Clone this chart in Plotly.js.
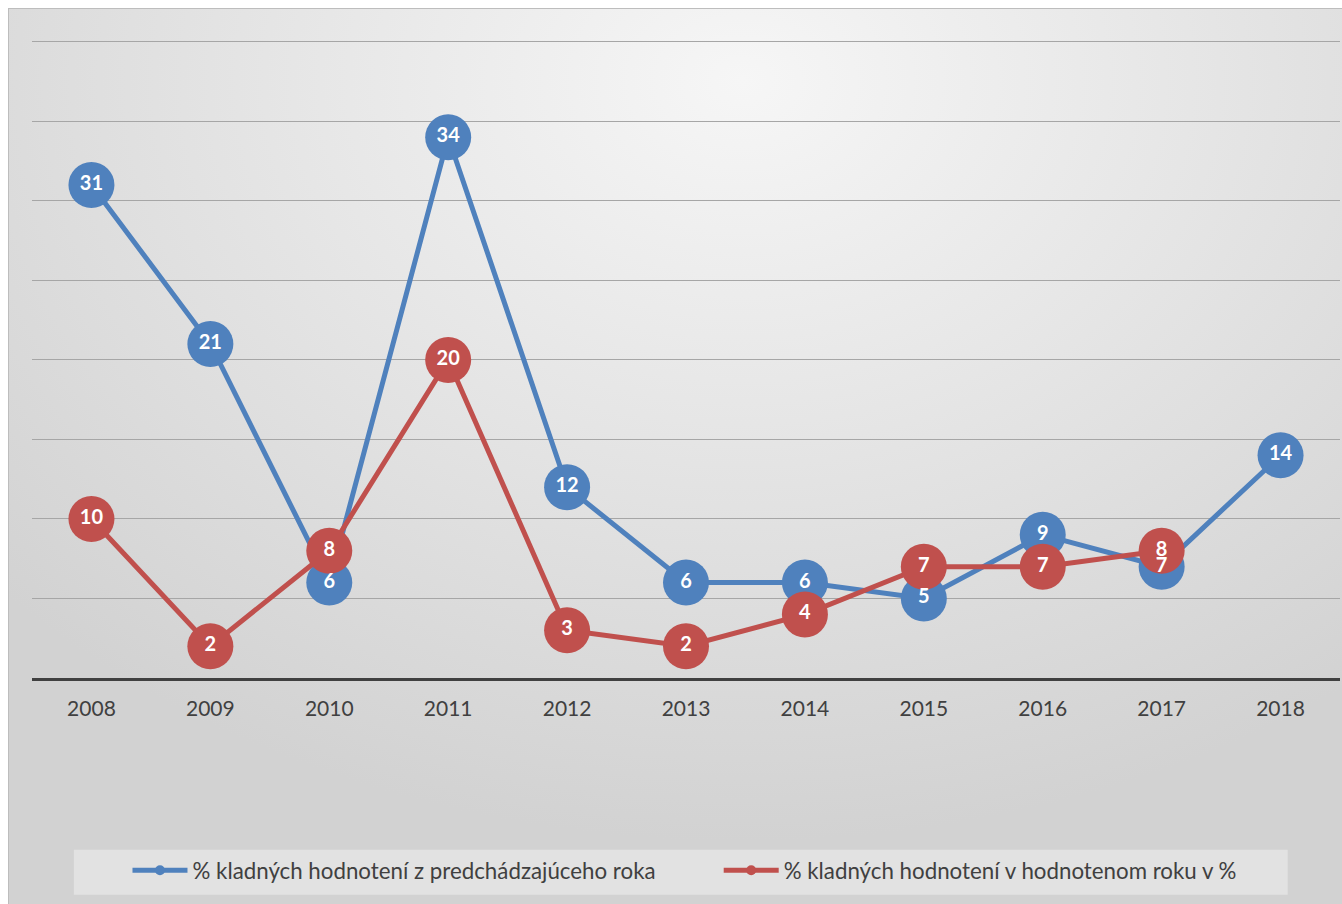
<!DOCTYPE html>
<html><head><meta charset="utf-8">
<script src="https://cdn.plot.ly/plotly-3.0.1.min.js"></script>
<style>
html,body{margin:0;padding:0;background:#fff;}
#bg{position:absolute;left:8px;top:8px;width:1334px;height:896px;box-sizing:border-box;border-left:1px solid #bdbdbd;border-top:1px solid #bdbdbd;
background:radial-gradient(ellipse 75% 85% at 55% 8%, #f6f6f6 0%, #e6e6e6 45%, #d2d2d2 100%);}
#chart{position:absolute;left:0;top:0;width:1342px;height:904px;}
</style></head><body>
<div id="bg"></div>
<div id="chart"></div>
<script>
const years = ['2008','2009','2010','2011','2012','2013','2014','2015','2016','2017','2018'];
const prevYear = [31,21,6,34,12,6,6,5,9,7,14];
const currYear = [10,2,8,20,3,2,4,7,7,8,null];
const nameBlue = '% kladných hodnotení z predchádzajúceho roka';
const nameRed = '% kladných hodnotení v hodnotenom roku v %';
const blue = '#4f81bd', red = '#c0504d';
const font = 'Lato, Carlito, "Open Sans", sans-serif';

function lineTrace(y, name, color){
  return {x: years, y: y, name: name, type:'scatter', mode:'lines+markers',
    line:{color:color, width:5}, marker:{color:color, size:46}, showlegend:false,
    connectgaps:false, hoverinfo:'skip'};
}
function textTrace(y){
  return {x: years, y: y, type:'scatter', mode:'text', text: y.map(v=>v==null?'':String(v)),
    textposition:'middle center', textfont:{color:'#ffffff', size:20, family:font, weight:'bold'},
    showlegend:false, hoverinfo:'skip'};
}
function legendTrace(name, color, leg){
  return {x:[null], y:[null], name:name, type:'scatter', mode:'lines+markers', legend:leg,
    line:{color:color, width:5}, marker:{color:color, size:10}, showlegend:true};
}

const data = [
  lineTrace(prevYear, nameBlue, blue),
  lineTrace(currYear, nameRed, red),
  textTrace(prevYear),
  textTrace(currYear),
  legendTrace(nameBlue, blue, 'legend'),
  legendTrace(nameRed, red, 'legend2')
];

const legBase = {orientation:'h', yanchor:'middle', y:-0.3, xanchor:'left',
  bgcolor:'rgba(0,0,0,0)', font:{size:22.3, color:'#404040', family:font}, itemwidth:55};

const layout = {
  width:1342, height:904,
  paper_bgcolor:'rgba(0,0,0,0)', plot_bgcolor:'rgba(0,0,0,0)',
  margin:{l:32, r:2, t:37, b:226},
  font:{family:font, color:'#404040'},
  showlegend:true,
  xaxis:{type:'category', range:[-0.5,10.5], showgrid:false, zeroline:false,
    showline:true, linecolor:'#404040', linewidth:3, ticks:'',
    tickfont:{size:21, color:'#404040', family:font}, ticklabelstandoff:10, fixedrange:true},
  yaxis:{range:[0,40.3], dtick:5, showgrid:true, gridcolor:'#a6a6a6', gridwidth:1,
    showticklabels:false, zeroline:false, showline:false, fixedrange:true},
  legend:Object.assign({}, legBase, {x:0.073}),
  legend2:Object.assign({}, legBase, {x:0.525}),
  shapes:[{type:'rect', xref:'paper', yref:'paper', x0:0.032, x1:0.96, y0:-0.338, y1:-0.268,
    fillcolor:'#e2e2e2', line:{width:0}, layer:'below'}]
};
Plotly.newPlot('chart', data, layout, {staticPlot:true, displayModeBar:false});
</script>
</body></html>
